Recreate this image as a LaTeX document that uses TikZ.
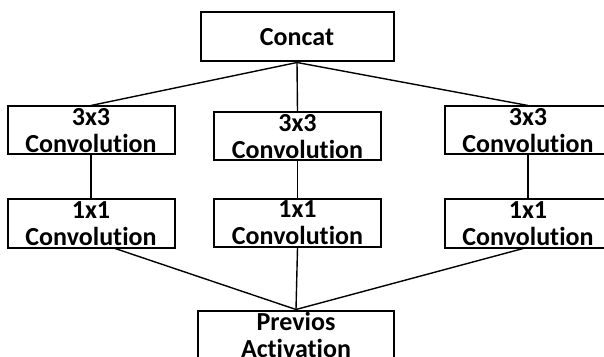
\documentclass[tikz,border=0pt]{standalone}
\usepackage{fontspec}
\setmainfont{Carlito}[RawFeature={-liga}]
\usetikzlibrary{positioning}

\tikzset{
  blk/.style={draw, line width=2pt, inner sep=0pt, align=center,
    font=\fontsize{26}{27}\selectfont\bfseries},
  conv/.style={blk, minimum width=167pt, minimum height=48pt},
  link/.style={line width=1.4pt}
}

\begin{document}
\begin{tikzpicture}[x=1pt,y=1pt]
            \useasboundingbox (0,0) rectangle (604,356);
            \clip (0,0) rectangle (604,356);
            % output
            \node[blk, minimum width=193pt, minimum height=49pt] (concat) at (297,319) {Concat};
            % 3x3 row
            \node[conv] (sA) at (91,225.5) {3x3\\Convolution};
            \node[conv] (sB) at (297.5,219.5) {3x3\\Convolution};
            \node[conv] (sC) at (528,225.5) {3x3\\Convolution};
            % 1x1 row
            \node[conv] (fA) at (91,132.5) {1x1\\Convolution};
            \node[conv] (fB) at (297.5,133) {1x1\\Convolution};
            \node[conv] (fC) at (528,132.5) {1x1\\Convolution};
            % input
            \node[blk, minimum width=196pt, minimum height=48pt] (prev) at (296,21.5) {Previos\\Activation};

            \foreach \n in {A,B,C}
            \draw[link] (concat.south) -- (s\n.north);
            \foreach \n in {A,B,C}
            \draw[link] (s\n.south) -- (f\n.north);
            \draw[link] (fA.-46) -- (prev.north);
            \draw[link] (fB.south) -- (prev.north);
            \draw[link] (fC.-101) -- (prev.north);
        \end{tikzpicture}
\end{document}
